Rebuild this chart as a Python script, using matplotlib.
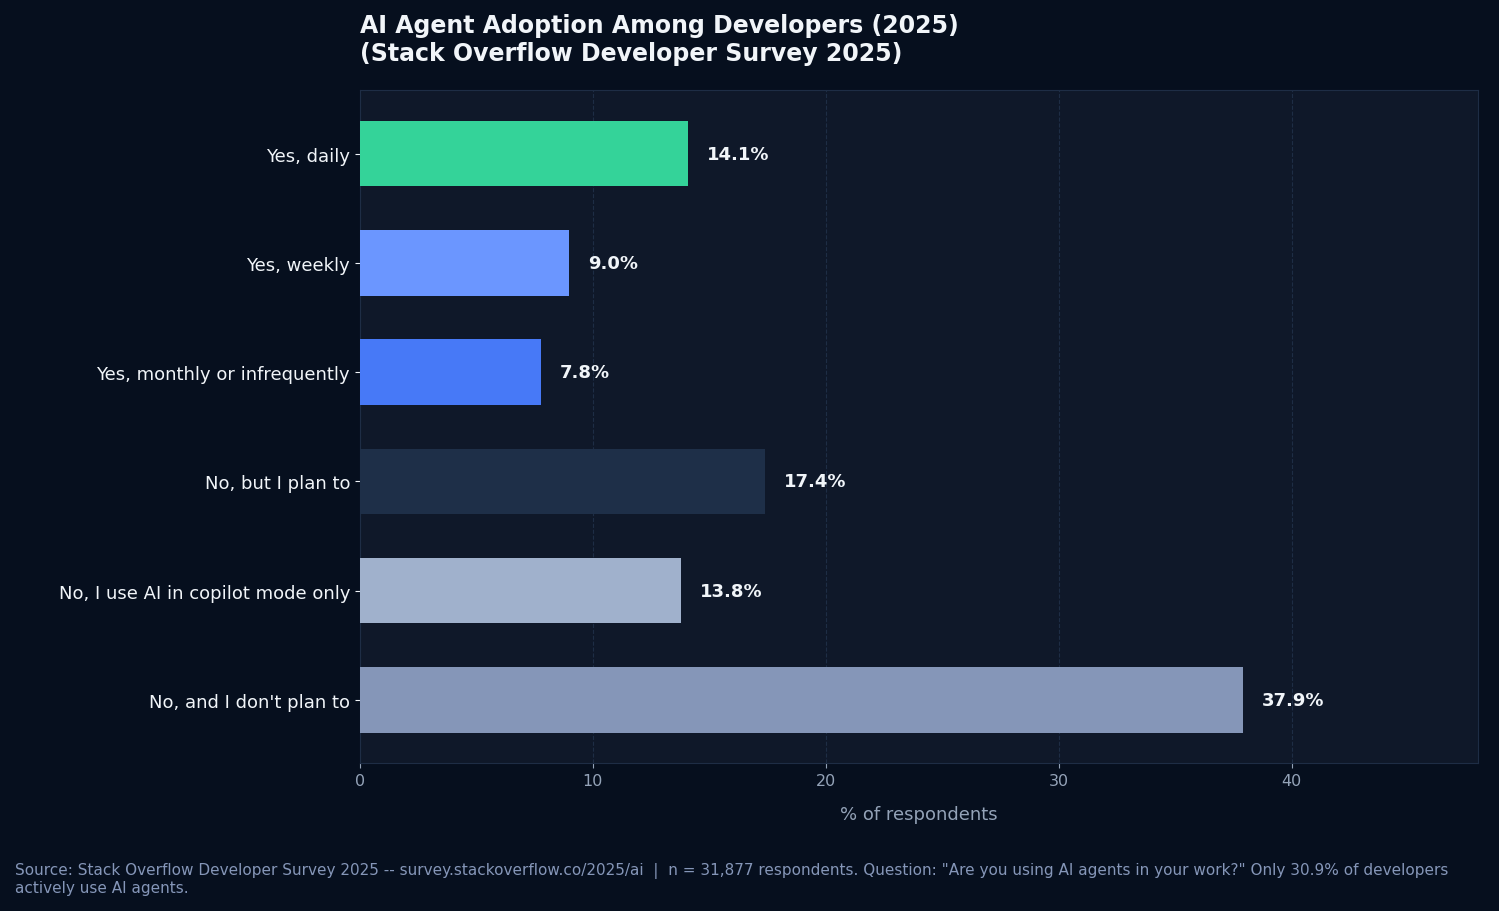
import matplotlib
matplotlib.use("Agg")
import matplotlib.pyplot as plt

categories = ["Yes, daily", "Yes, weekly", "Yes, monthly or infrequently",
              "No, but I plan to", "No, I use AI in copilot mode only",
              "No, and I don't plan to"]
values = [14.1, 9.0, 7.8, 17.4, 13.8, 37.9]
colors = ["#34d399", "#6b96ff", "#4779f7", "#1e2f48", "#a0b1cc", "#8596b8"]

FIG_BG = "#060f1e"
AX_BG = "#0f1829"
TEXT = "#f1f5f9"
MUTED = "#94a3b8"

fig = plt.figure(figsize=(14.99, 9.12), dpi=100, facecolor=FIG_BG)
ax = fig.add_axes([0.240, 0.162, 0.746, 0.738], facecolor=AX_BG)

y = list(range(len(categories)))
ax.barh(y, values, color=colors, height=0.6, zorder=3)
ax.invert_yaxis()
ax.set_yticks(y)
ax.set_yticklabels(categories, color=TEXT, fontsize=13)
ax.set_xlim(0, 48)
ax.set_xticks([0, 10, 20, 30, 40])
ax.tick_params(axis='x', colors=MUTED, labelsize=11.5)
ax.tick_params(axis='y', colors=TEXT)
ax.set_xlabel("% of respondents", color=MUTED, fontsize=13, labelpad=12)
ax.xaxis.grid(True, color="#1e2d45", linestyle="--", linewidth=0.8, zorder=0)
for sp in ax.spines.values():
    sp.set_color("#1e2d45")

for yi, v in zip(y, values):
    ax.text(v + 0.8, yi, f"{v:.1f}%", va="center", ha="left",
            color=TEXT, fontsize=13, fontweight="bold")

ax.set_title("AI Agent Adoption Among Developers (2025)\n(Stack Overflow Developer Survey 2025)",
             loc="left", color=TEXT, fontsize=17, fontweight="bold", pad=22)

fig.text(0.01, 0.017,
         'Source: Stack Overflow Developer Survey 2025 -- survey.stackoverflow.co/2025/ai  |  n = 31,877 respondents. '
         'Question: "Are you using AI agents in your work?" Only 30.9% of developers\nactively use AI agents.',
         color="#8596b8", fontsize=11, ha="left", va="bottom")

fig.savefig("out.png", dpi=100, facecolor=FIG_BG)
